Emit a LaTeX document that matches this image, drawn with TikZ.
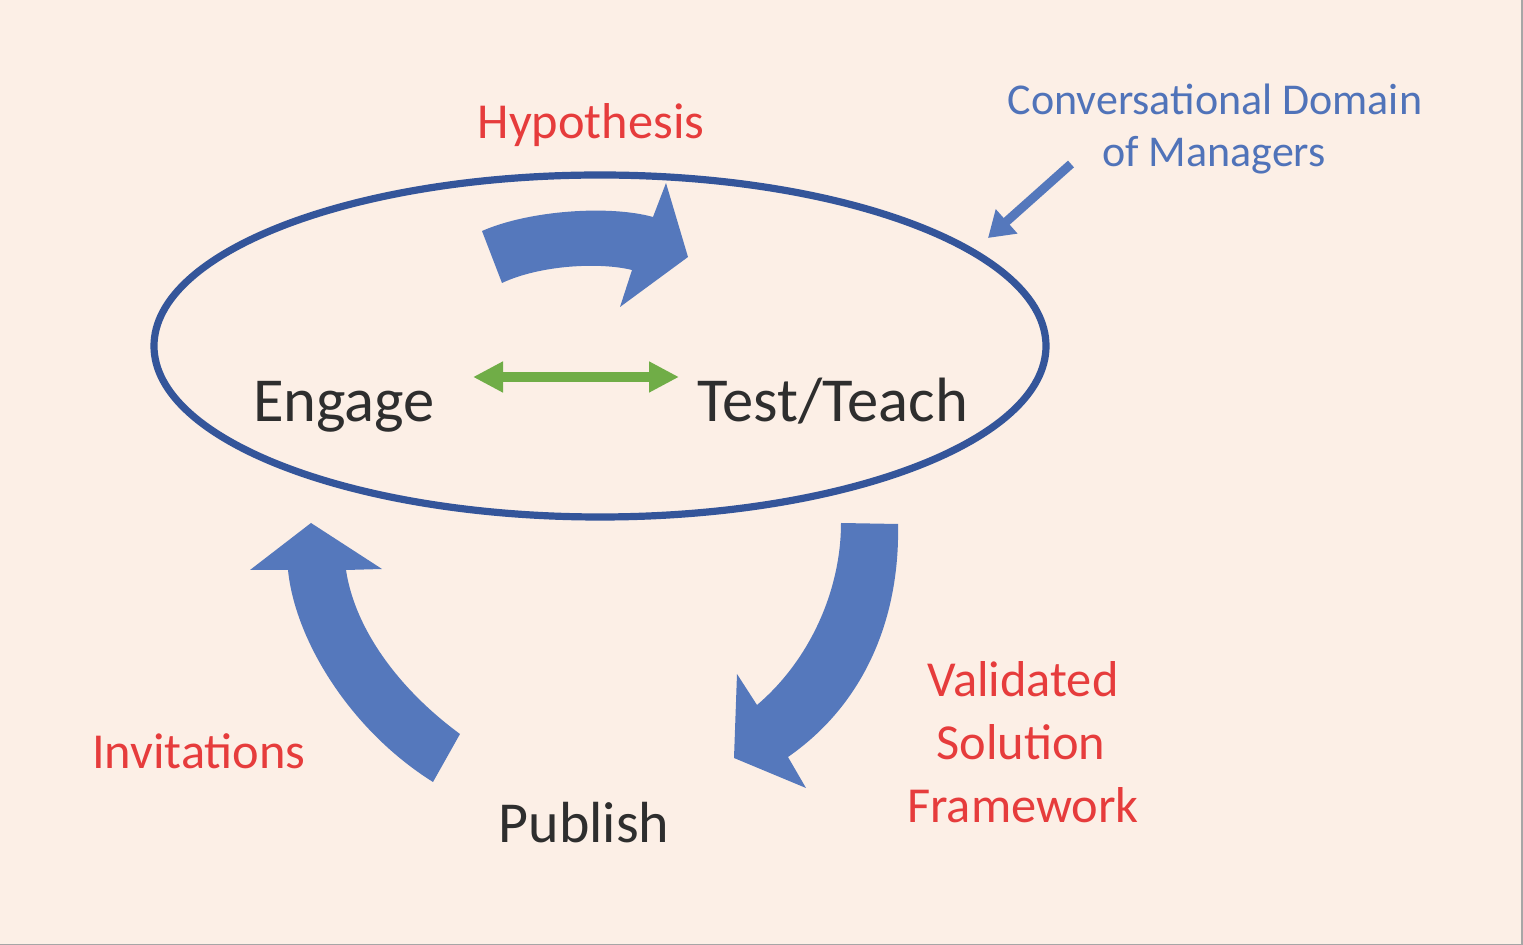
\documentclass[tikz,border=0pt]{standalone}
\usepackage{fontspec}
\setmainfont{Carlito}
\usetikzlibrary{shapes.geometric,arrows.meta}
\definecolor{bg}{HTML}{FCEFE6}
\definecolor{ellc}{HTML}{34559A}
\definecolor{arrowc}{HTML}{5578BC}
\definecolor{redc}{HTML}{E63C3C}
\definecolor{bluec}{HTML}{5073B9}
\definecolor{darkc}{HTML}{2E2E2E}
\definecolor{greenc}{HTML}{70AD47}
\tikzset{
  bigtext/.style={anchor=base, text=darkc, inner sep=0, font=\fontsize{31.3}{38}\selectfont},
  redtext/.style={anchor=base, text=redc, inner sep=0, font=\fontsize{25.2}{30}\selectfont},
  bluetext/.style={anchor=base, text=bluec, inner sep=0, font=\fontsize{22}{26}\selectfont},
  curvedarrow/.style={fill=arrowc},
}
\begin{document}
\begin{tikzpicture}[x=0.5pt,y=-0.5pt]
\fill[bg] (0,0) rectangle (1523,945);
\useasboundingbox (0,0) rectangle (1523,945);
\draw[gray!70, line width=0.8pt] (1522,0) -- (1522,944.5) -- (0,944.5);

% domain ellipse
\node[draw=ellc, line width=3.6pt, ellipse, minimum width=446pt, minimum height=171pt, inner sep=0] (domain) at (600,346) {};

% main labels
\node[bigtext] (engage) at (344,422) {Engage};
\node[bigtext] (test) at (833,422) {Test/Teach};
\node[bigtext, font=\fontsize{29}{35}\selectfont] (publish) at (584,843) {Publish};

% red labels
\node[redtext] (hyp) at (591,139) {Hypothesis};
\node[redtext] (inv) at (199,769) {Invitations};
\node[redtext] (val1) at (1023,697) {Validated};
\node[redtext] (val2) at (1021,760) {Solution};
\node[redtext] (val3) at (1023,823) {Framework};

% blue label
\node[bluetext] (cd1) at (1215,115) {Conversational Domain};
\node[bluetext] (cd2) at (1214,167) {of Managers};

% green double arrow
\coordinate (gl) at (473,377);
\coordinate (gr) at (679,377);
\draw[greenc, line width=5pt, {Triangle[length=15pt,width=14.5pt]}-{Triangle[length=15pt,width=14.5pt]}] (gl) -- (gr);

% pointer arrow
\coordinate (cdtail) at (1071,164);
\coordinate (cdtip) at (988,238);
\draw[arrowc, line width=4.5pt, -{Triangle[length=12.5pt,width=15.5pt]}] (cdtail) -- (cdtip);

% curved arrows
\fill[curvedarrow] (482,231) .. controls (530,210) and (610,205) .. (653,217) -- (666,183) -- (688,257) -- (620,307) -- (632,270) .. controls (600,262) and (540,265) .. (502,283) -- cycle;
\fill[curvedarrow] (841,523) -- (898,524) .. controls (900,610) and (870,700) .. (788,757) -- (806,788) -- (734,758) -- (737,674) -- (757,705) .. controls (810,660) and (841,590) .. (841,523) -- cycle;
\fill[curvedarrow] (460,734) .. controls (400,690) and (355,630) .. (346,570) -- (382,569) -- (311,523) -- (250,570) -- (288,570) .. controls (295,640) and (350,730) .. (433,782) -- cycle;
\end{tikzpicture}
\end{document}
